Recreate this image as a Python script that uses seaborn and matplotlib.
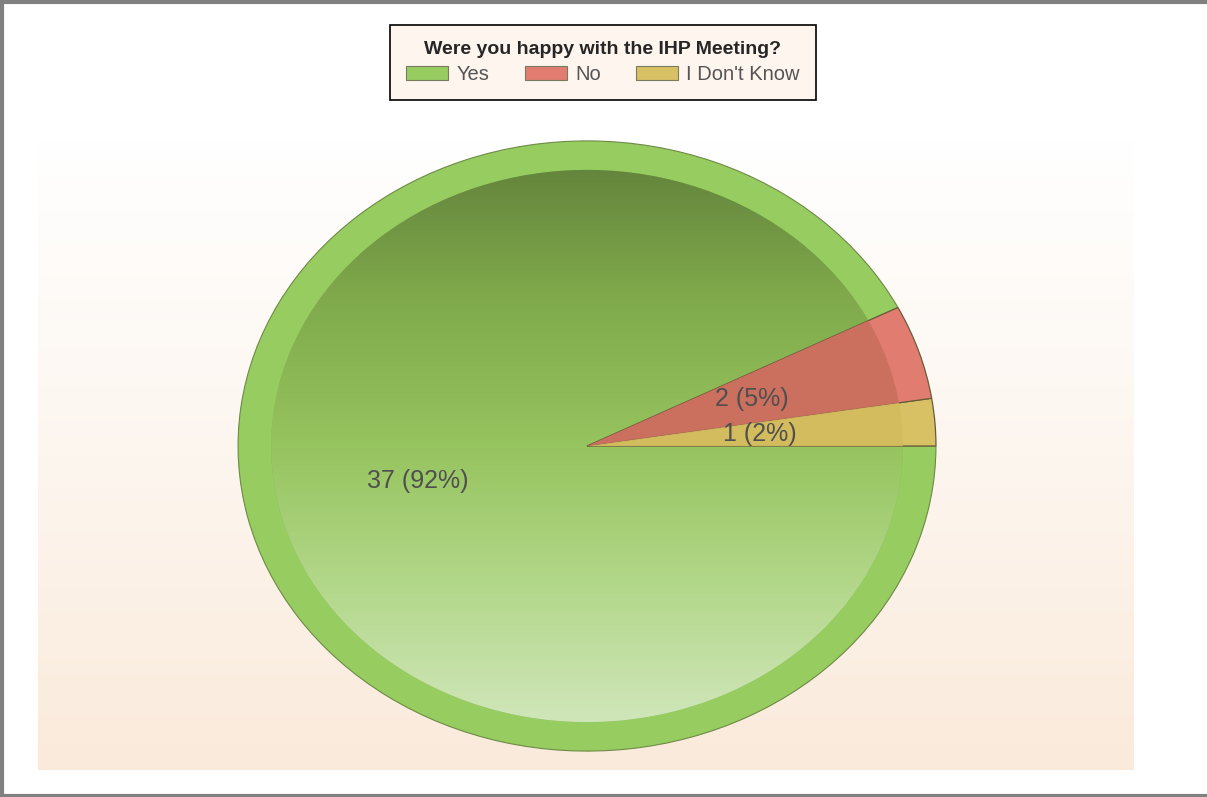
import numpy as np
import seaborn as sns
import matplotlib.pyplot as plt
from matplotlib.colors import LinearSegmentedColormap
from matplotlib.lines import Line2D
from matplotlib.patches import Patch

sns.set_theme(style='white')
plt.rcParams['font.family'] = ['Liberation Sans', 'DejaVu Sans']

# data (drawn counter-clockwise from 3 o'clock)
answers = ['I Don\'t Know', 'No', 'Yes']
counts = [1, 2, 37]
rim_colors = ['#D8C064', '#E07D70', '#96CC60']
inner_colors = ['#D3BC5E', '#C96E5E', '#86B554']
legend_order = ['Yes', 'No', 'I Don\'t Know']
title = 'Were you happy with the IHP Meeting?'

total = sum(counts)


def pct_label(pct):
    n = int(round(pct * total / 100.0))
    return '%d (%d%%)' % (n, int(pct))


fig = plt.figure(figsize=(12.07, 7.97), dpi=100)
fig.patch.set_facecolor('white')

# plot area background: white -> peach
bg = fig.add_axes([38 / 1207, 27 / 797, 1096 / 1207, 630 / 797])
grad = np.linspace(0, 1, 256).reshape(-1, 1)
bg_cmap = LinearSegmentedColormap.from_list('bg', ['#FFFFFF', '#FDF6EF', '#FAEADB'])
bg.imshow(grad, aspect='auto', cmap=bg_cmap, extent=[0, 1, 1, 0])
bg.set_axis_off()

# pie axes sized as the ellipse
ax = fig.add_axes([237 / 1207, 45 / 797, 700 / 1207, 612 / 797])
ax.set_facecolor('none')

outer, _ = ax.pie(counts, colors=rim_colors, startangle=0, counterclock=True,
                  radius=1.0, wedgeprops=dict(edgecolor='#6E8A45', linewidth=0.8))
inner, _, autotexts = ax.pie(counts, colors=inner_colors, startangle=0,
                             counterclock=True, radius=0.905,
                             autopct=pct_label, pctdistance=0.55,
                             wedgeprops=dict(edgecolor='none', linewidth=0),
                             textprops=dict(fontsize=18, color='#4F4F4F'))

# top-to-bottom gradient inside the big slice
green_cmap = LinearSegmentedColormap.from_list(
    'g', ['#5E7D39', '#7FA94B', '#96C45E', '#B5D98E', '#D6E9C4'])
img = ax.imshow(grad, cmap=green_cmap, extent=[-1, 1, -1, 1], aspect='auto',
                zorder=inner[2].get_zorder() + 0.1)
img.set_clip_path(inner[2])

# re-draw slice edges on top
for w in outer[:2]:
    w.set_edgecolor('#6B5A3A')
    w.set_linewidth(0.9)
    w.set_zorder(img.get_zorder() + 0.2)
for w in inner[:2]:
    w.set_zorder(img.get_zorder() + 0.3)
    w.set_alpha(0.9)
for t in autotexts:
    t.set_zorder(10)

ax.set_xlim(-1.003, 1.003)
ax.set_ylim(-1.003, 1.003)
ax.set_aspect('auto')
ax.set_axis_off()

# legend
handles = []
for name in legend_order:
    i = answers.index(name)
    handles.append(Patch(facecolor=rim_colors[i], edgecolor='#7A7A60', linewidth=0.8))
leg = fig.legend(handles, legend_order, title=title, ncol=3,
                 loc='upper center', bbox_to_anchor=(603 / 1207, 1 - 25 / 797),
                 borderaxespad=0,
                 frameon=True, fancybox=False, edgecolor='black',
                 facecolor='#FDF5EE', framealpha=1, fontsize=14.5,
                 title_fontproperties=dict(weight='bold', size=14),
                 handlelength=2.1, handleheight=0.7, handletextpad=0.4,
                 columnspacing=1.75, borderpad=0.8, labelspacing=0.35)
leg.get_frame().set_linewidth(1.2)
for txt in leg.get_texts():
    txt.set_color('#555555')

# outer gray frame
fig.add_artist(Line2D([0, 1], [1 - 1.5 / 797] * 2, color='#808080', lw=3, transform=fig.transFigure))
fig.add_artist(Line2D([1.5 / 1207] * 2, [0, 1], color='#808080', lw=3, transform=fig.transFigure))
fig.add_artist(Line2D([0, 1], [1.5 / 797] * 2, color='#808080', lw=3, transform=fig.transFigure))

fig.savefig('out.png', dpi=100)
